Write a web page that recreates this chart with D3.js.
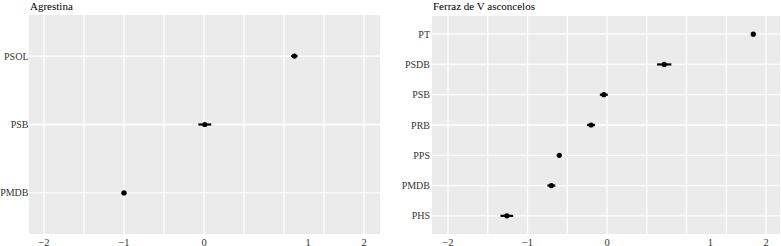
<!DOCTYPE html>
<html><head><meta charset="utf-8">
<script src="https://cdn.jsdelivr.net/npm/d3@7"></script>
<style>body{margin:0;background:#fff}svg{display:block}</style>
</head><body>
<svg id="c" width="781" height="246"></svg>
<script>
// Panel 1: Agrestina
const title1 = "Agrestina";
const cats1 = ["PSOL", "PSB", "PMDB"];
const est1 = [1.13, 0.01, -1.0];
const err1 = [0.04, 0.08, 0.03];
// Panel 2: Ferraz de Vasconcelos
const title2 = "Ferraz de V asconcelos";
const cats2 = ["PT", "PSDB", "PSB", "PRB", "PPS", "PMDB", "PHS"];
const est2 = [1.84, 0.72, -0.04, -0.20, -0.60, -0.70, -1.26];
const err2 = [0.02, 0.09, 0.05, 0.05, 0.03, 0.05, 0.08];
// axis
const gridVals = [-2, -1.5, -1, -0.5, 0, 0.5, 1, 1.5, 2];
const tickVals = [-2, -1, 0, 1.3, 2];
const tickLabels = ["\u22122", "\u22121", "0", "1", "2"];

const svg = d3.select("#c");
const FONT = '"Liberation Serif"';

function panel(o) {
  const g = svg.append("g");
  const x = d3.scaleLinear().domain([-2, 2]).range([o.xm2, o.xp2]);
  const y = d3.scalePoint().domain(o.cats).range([o.top, o.bottom]).padding(0.6);
  g.append("rect").attr("x", o.left).attr("y", o.top)
    .attr("width", o.right - o.left).attr("height", o.bottom - o.top).attr("fill", "#EBEBEB");
  g.selectAll(".vg").data(gridVals).join("line")
    .attr("x1", d => x(d)).attr("x2", d => x(d)).attr("y1", o.top).attr("y2", o.bottom)
    .attr("stroke", "#fff").attr("stroke-width", 1.3);
  g.selectAll(".hg").data(o.cats).join("line")
    .attr("x1", o.left).attr("x2", o.right).attr("y1", d => y(d)).attr("y2", d => y(d))
    .attr("stroke", "#fff").attr("stroke-width", 1.3);
  // y labels
  g.selectAll(".yl").data(o.cats).join("text")
    .attr("x", o.labelX).attr("y", d => y(d)).attr("dy", "0.35em")
    .attr("text-anchor", "end").style("font-family", FONT).style("font-size", "10px")
    .attr("fill", "#333").text(d => d);
  // x labels
  g.selectAll(".xl").data(tickVals).join("text")
    .attr("x", d => x(d)).attr("y", o.bottom + 11.5)
    .attr("text-anchor", "middle").style("font-family", FONT).style("font-size", "10.5px")
    .attr("fill", "#333").text((d, i) => tickLabels[i]);
  // title
  g.append("text").attr("x", o.left + 1).attr("y", 10)
    .style("font-family", FONT).style("font-size", "11px").attr("fill", "#000").text(o.title);
  // error bars
  g.selectAll(".eb").data(o.cats).join("line")
    .attr("x1", (d, i) => x(o.est[i] - o.err[i])).attr("x2", (d, i) => x(o.est[i] + o.err[i]))
    .attr("y1", d => y(d)).attr("y2", d => y(d))
    .attr("stroke", "#000").attr("stroke-width", 2.2);
  g.selectAll(".pt").data(o.cats).join("circle")
    .attr("cx", (d, i) => x(o.est[i])).attr("cy", d => y(d)).attr("r", 2.6).attr("fill", "#000");
}

panel({title: title1, cats: cats1, est: est1, err: err1, left: 29, right: 380, top: 15, bottom: 234, xm2: 44, xp2: 364, labelX: 28.5});
panel({title: title2, cats: cats2, est: est2, err: err2, left: 432, right: 780, top: 16, bottom: 234, xm2: 448, xp2: 766, labelX: 430});
</script>
</body></html>
